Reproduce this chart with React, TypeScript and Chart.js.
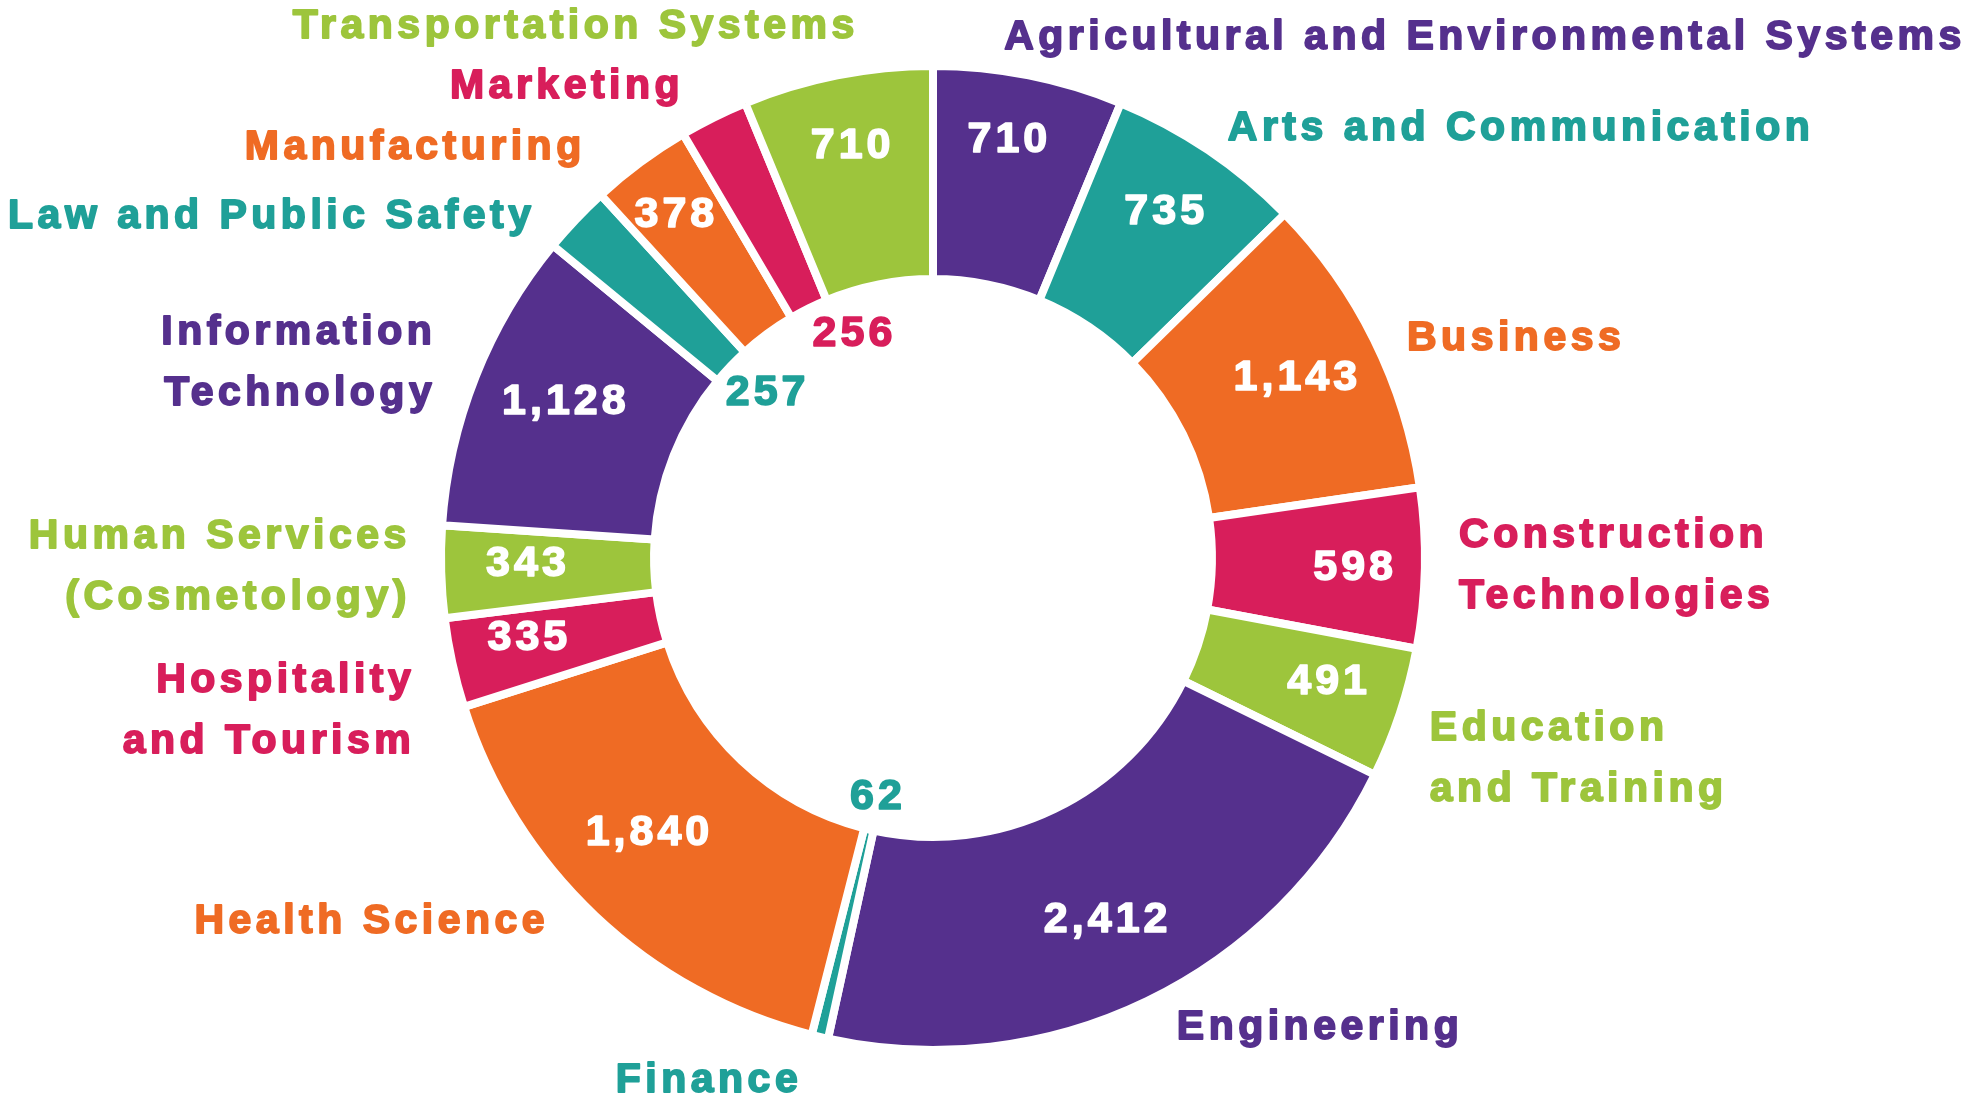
import React, { useEffect, useRef } from "react";
import { Chart, registerables } from "chart.js";

Chart.register(...registerables);

// ---- data ----
const categories = [
  "Agricultural and Environmental Systems",
  "Arts and Communication",
  "Business",
  "Construction Technologies",
  "Education and Training",
  "Engineering",
  "Finance",
  "Health Science",
  "Hospitality and Tourism",
  "Human Services (Cosmetology)",
  "Information Technology",
  "Law and Public Safety",
  "Manufacturing",
  "Marketing",
  "Transportation Systems",
];

const labelLines = [
  ["Agricultural and Environmental Systems"],
  ["Arts and Communication"],
  ["Business"],
  ["Construction", "Technologies"],
  ["Education", "and Training"],
  ["Engineering"],
  ["Finance"],
  ["Health Science"],
  ["Hospitality", "and Tourism"],
  ["Human Services", "(Cosmetology)"],
  ["Information", "Technology"],
  ["Law and Public Safety"],
  ["Manufacturing"],
  ["Marketing"],
  ["Transportation Systems"],
];

const enrollment = [710, 735, 1143, 598, 491, 2412, 62, 1840, 335, 343, 1128, 257, 378, 256, 710];

// ---- styles ----
const PURPLE = "#55308D";
const TEAL = "#1FA098";
const ORANGE = "#EF6B24";
const PINK = "#D81E5B";
const GREEN = "#9DC53C";
const sliceColors = [
  PURPLE, TEAL, ORANGE, PINK, GREEN,
  PURPLE, TEAL, ORANGE, PINK, GREEN,
  PURPLE, TEAL, ORANGE, PINK, GREEN,
];

// category label placement relative to the doughnut centre, in units of the outer radius
const labelLayout: [number, number, CanvasTextAlign][] = [
  [1.131, -1.066, "center"],
  [1.205, -0.879, "center"],
  [1.195, -0.449, "center"],
  [1.078, 0.017, "left"],
  [1.018, 0.413, "left"],
  [0.793, 0.963, "center"],
  [-0.459, 1.072, "center"],
  [-1.15, 0.746, "center"],
  [-1.061, 0.313, "right"],
  [-1.07, 0.018, "right"],
  [-1.018, -0.4, "right"],
  [-1.355, -0.699, "center"],
  [-1.061, -0.84, "center"],
  [-0.75, -0.965, "center"],
  [-0.732, -1.088, "center"],
];

// small pixel nudges for the value labels (hand placement in the original)
const valueNudge: [number, number][] = [
  [-4, -13], [2, -3], [-6, 3], [9, 2], [4, -6],
  [-5, -10], [0, 7], [0, -25], [0, -8], [8, -5],
  [17, -4], [8, 0], [-11, -11], [28, -10], [0, -7],
];

const BORDER = 8;
const FONT = '"Liberation Sans", Arial, sans-serif';

function drawHeavyText(ctx: CanvasRenderingContext2D, text: string, x: number, y: number) {
  ctx.strokeText(text, x, y);
  ctx.fillText(text, x, y);
}

const labelPlugin = {
  id: "sliceLabels",
  afterDatasetsDraw(chart: any) {
    const ctx: CanvasRenderingContext2D = chart.ctx;
    const meta = chart.getDatasetMeta(0);
    meta.data.forEach((arc: any, i: number) => {
      const { x, y, startAngle, endAngle, innerRadius, outerRadius } = arc.getProps(
        ["x", "y", "startAngle", "endAngle", "innerRadius", "outerRadius"],
        true
      );
      const mid = (startAngle + endAngle) / 2;
      const value = enrollment[i];
      const inside = value >= 300;
      const r = inside ? innerRadius + (outerRadius - innerRadius) * 0.63 : innerRadius - 40;
      const [nx, ny] = valueNudge[i];
      ctx.save();
      ctx.textBaseline = "middle";
      ctx.textAlign = "center";
      ctx.lineJoin = "round";
      ctx.font = `bold 43px ${FONT}`;
      (ctx as any).letterSpacing = "4px";
      const vColor = inside ? "#FFFFFF" : sliceColors[i];
      ctx.fillStyle = vColor;
      ctx.strokeStyle = vColor;
      ctx.lineWidth = 1.6;
      drawHeavyText(
        ctx,
        value.toLocaleString("en-US"),
        x + Math.cos(mid) * r + nx,
        y + Math.sin(mid) * r + ny
      );

      const R = outerRadius - BORDER / 2;
      const [dx, dy, align] = labelLayout[i];
      const lines = labelLines[i];
      ctx.font = `bold 41px ${FONT}`;
      (ctx as any).letterSpacing = "4.5px";
      ctx.textAlign = align;
      ctx.fillStyle = sliceColors[i];
      ctx.strokeStyle = sliceColors[i];
      ctx.lineWidth = 1.8;
      const lh = 61;
      lines.forEach((ln, k) => {
        drawHeavyText(ctx, ln, x + dx * R, y + dy * R + (k - (lines.length - 1) / 2) * lh);
      });
      ctx.restore();
    });
  },
};

export default function App() {
  const canvasRef = useRef<HTMLCanvasElement | null>(null);

  useEffect(() => {
    if (!canvasRef.current) return;
    const chart = new Chart(canvasRef.current, {
      type: "doughnut",
      data: {
        labels: categories,
        datasets: [
          {
            data: enrollment,
            backgroundColor: sliceColors,
            borderColor: "#FFFFFF",
            borderWidth: BORDER,
            borderAlign: "center",
            hoverOffset: 0,
            radius: 492,
          } as any,
        ],
      },
      options: {
        animation: false,
        responsive: true,
        maintainAspectRatio: false,
        cutout: "56.7%",
        rotation: 0,
        layout: { padding: { left: 400, right: 506, top: 30, bottom: 15 } },
        plugins: {
          legend: { display: false },
          tooltip: { enabled: false },
        },
        events: [],
      },
      plugins: [labelPlugin],
    });
    return () => chart.destroy();
  }, []);

  return (
    <div
      style={{
        position: "fixed",
        left: 0,
        top: 0,
        width: "100vw",
        height: "100vh",
        background: "#FFFFFF",
      }}
    >
      <canvas ref={canvasRef} />
    </div>
  );
}
